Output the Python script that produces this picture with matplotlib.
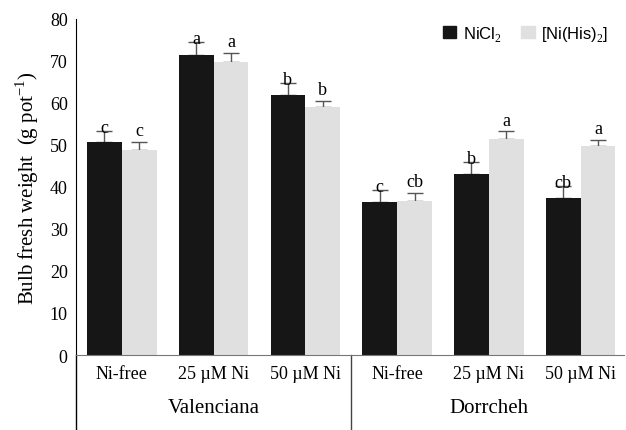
import matplotlib
matplotlib.use("Agg")
import matplotlib.pyplot as plt
from matplotlib.patches import Patch
from matplotlib.lines import Line2D
import numpy as np

treatments = ["Ni-free", "25 µM Ni", "50 µM Ni", "Ni-free", "25 µM Ni", "50 µM Ni"]
cultivars = ["Valenciana", "Dorrcheh"]
nicl2 = [50.7, 71.4, 61.9, 36.4, 43.1, 37.4]
nicl2_err = [2.6, 3.1, 2.9, 2.9, 2.8, 2.8]
nihis = [48.8, 69.8, 59.0, 36.7, 51.4, 49.8]
nihis_err = [1.9, 2.1, 1.5, 1.9, 1.9, 1.4]
nicl2_letters = ["c", "a", "b", "c", "b", "cb"]
nihis_letters = ["c", "a", "b", "cb", "a", "a"]

plt.rcParams['font.family'] = ['Liberation Serif', 'DejaVu Serif']
plt.rcParams['mathtext.fontset'] = 'custom'
plt.rcParams['mathtext.rm'] = 'Liberation Serif'

fig = plt.figure(figsize=(6.26, 4.31), dpi=100)
ax = fig.add_axes([0.1214, 0.174, 0.875, 0.78])

x = np.arange(len(treatments))
w = 0.38
black = '#161616'
gray = '#e0e0e0'
ax.bar(x - w/2, nicl2, w, color=black, zorder=2)
ax.bar(x + w/2, nihis, w, color=gray, zorder=2)
ax.errorbar(x - w/2, nicl2, yerr=[np.zeros(6), nicl2_err], fmt='none',
            ecolor='#555555', elinewidth=1, capsize=6, capthick=1, zorder=1)
ax.errorbar(x + w/2, nihis, yerr=[np.zeros(6), nihis_err], fmt='none',
            ecolor='#555555', elinewidth=1, capsize=6, capthick=1, zorder=1)

for i in range(len(x)):
    ax.text(x[i] - w/2, nicl2[i] + nicl2_err[i] - 1.2, nicl2_letters[i],
            ha='center', va='bottom', fontsize=13)
    ax.text(x[i] + w/2, nihis[i] + nihis_err[i] + 0.6, nihis_letters[i],
            ha='center', va='bottom', fontsize=13)

ax.set_xlim(-0.5, 5.47)
ax.set_ylim(0, 80)
ax.set_yticks(range(0, 81, 10))
ax.tick_params(axis='y', length=0, pad=6, labelsize=13)
ax.set_xticks(x)
ax.set_xticklabels(treatments, fontsize=13)
ax.tick_params(axis='x', length=0, pad=7)
for s in ['top', 'right']:
    ax.spines[s].set_visible(False)
ax.spines['bottom'].set_color('#777777')
ax.spines['left'].set_color('black')

# extended vertical lines below axis
trans = ax.get_xaxis_transform()
ax.add_line(Line2D([-0.5, -0.5], [0, -0.23], transform=trans, color='black',
                   lw=1, clip_on=False))
ax.add_line(Line2D([2.5, 2.5], [0, -0.23], transform=trans, color='#444444',
                   lw=1, clip_on=False))

ax.text(1.0, -0.155, cultivars[0], transform=trans, ha='center', va='center', fontsize=15)
ax.text(4.0, -0.155, cultivars[1], transform=trans, ha='center', va='center', fontsize=15)

ax.set_ylabel(r"Bulb fresh weight  (g pot$^{\mathregular{-1}}$)", fontsize=15, labelpad=6)

handles = [Patch(color=black), Patch(color=gray)]
leg = ax.legend(handles, [r"NiCl$_2$", r"[Ni(His)$_2$]"], ncol=2, frameon=False,
                loc='upper right', bbox_to_anchor=(1.0, 1.03),
                handlelength=0.8, handleheight=0.8, handletextpad=0.4,
                columnspacing=1.2,
                prop={'family': 'Liberation Sans', 'size': 12})
for t in leg.get_texts():
    t.set_fontfamily('Liberation Sans')

fig.savefig("out.png", dpi=100)
